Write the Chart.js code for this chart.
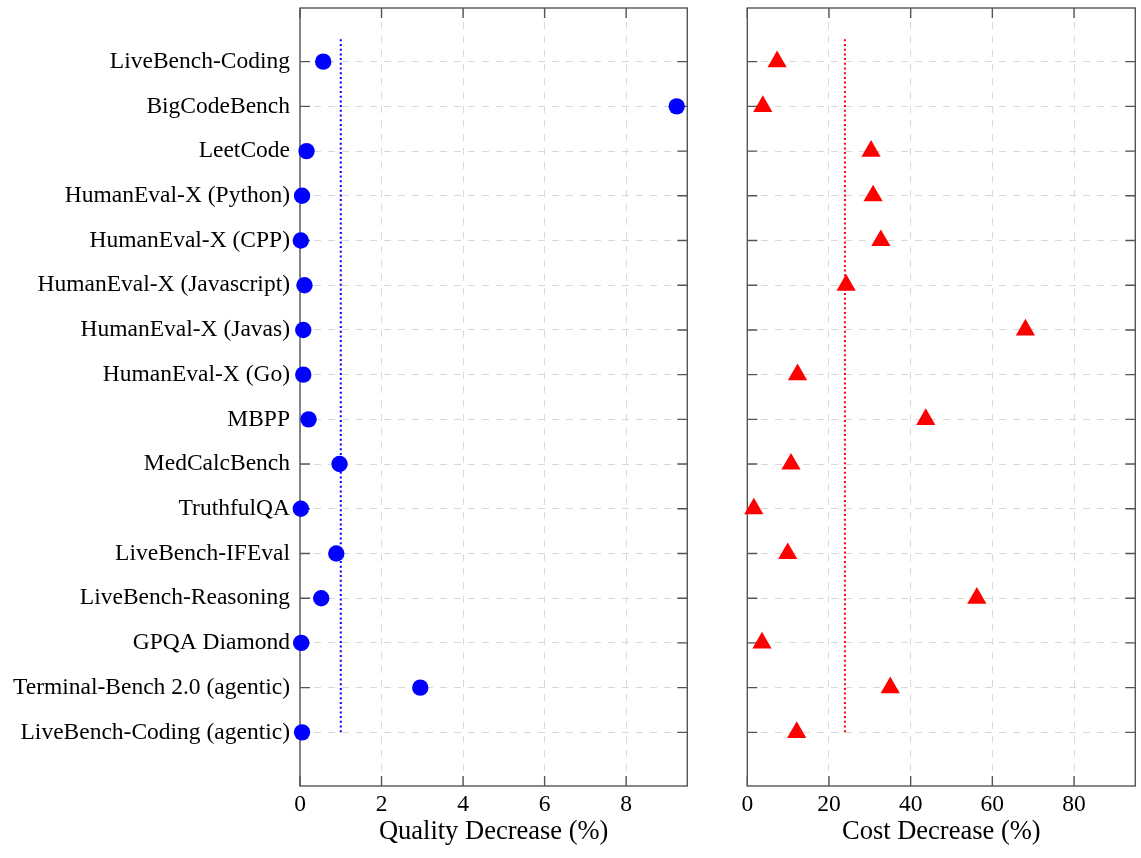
<!DOCTYPE html>
<html>
<head>
<meta charset="utf-8">
<script src="https://cdn.jsdelivr.net/npm/chart.js@4/dist/chart.umd.min.js"></script>
<style>
html,body{margin:0;padding:0;background:#fff;width:1141px;height:858px;overflow:hidden;}
canvas{position:absolute;top:0;}
</style>
</head>
<body>
<canvas id="q" width="700" height="858" style="left:0px;width:700px;height:858px"></canvas>
<canvas id="c" width="441" height="858" style="left:700px;width:441px;height:858px"></canvas>
<script>
const benchmarks = [
  'LiveBench-Coding', 'BigCodeBench', 'LeetCode', 'HumanEval-X (Python)',
  'HumanEval-X (CPP)', 'HumanEval-X (Javascript)', 'HumanEval-X (Javas)', 'HumanEval-X (Go)',
  'MBPP', 'MedCalcBench', 'TruthfulQA', 'LiveBench-IFEval',
  'LiveBench-Reasoning', 'GPQA Diamond', 'Terminal-Bench 2.0 (agentic)', 'LiveBench-Coding (agentic)'
];
const qualityDecrease = [0.57, 9.24, 0.16, 0.05, 0.02, 0.11, 0.08, 0.08, 0.21, 0.97, 0.02, 0.89, 0.52, 0.03, 2.95, 0.05];
const costDecrease = [7.3, 3.8, 30.3, 30.8, 32.7, 24.2, 68.1, 12.3, 43.7, 10.7, 1.6, 9.9, 56.2, 3.6, 35.0, 12.1];
const qualityMean = 1.0;
const costMean = 23.9;
const meanLineSpan = [-0.5, 15];
const qualityTicks = [0, 2, 4, 6, 8];
const costTicks = [0, 20, 40, 60, 80];
const qualityRange = [0, 9.5];
const costRange = [0, 95];
const categoryRange = [-1.2, 16.2];

const FONT = 'Liberation Serif, Times New Roman, serif';

const framePlugin = {
  id: 'frame',
  beforeDatasetsDraw(chart) {
    const {ctx, chartArea: a, scales: {x, y}} = chart;
    ctx.save();
    ctx.strokeStyle = '#555';
    ctx.lineWidth = 1.4;
    ctx.beginPath();
    x.ticks.forEach(t => {
      const px = x.getPixelForValue(t.value);
      ctx.moveTo(px, a.top); ctx.lineTo(px, a.top + 10);
      ctx.moveTo(px, a.bottom); ctx.lineTo(px, a.bottom - 10);
    });
    y.ticks.forEach(t => {
      const py = y.getPixelForValue(t.value);
      ctx.moveTo(a.left, py); ctx.lineTo(a.left + 10, py);
      ctx.moveTo(a.right, py); ctx.lineTo(a.right - 10, py);
    });
    ctx.stroke();
    ctx.strokeRect(a.left, a.top, a.right - a.left, a.bottom - a.top);
    ctx.restore();
  }
};

function zeroPad(s) {
  s.paddingTop = 0; s.paddingBottom = 0; s.paddingLeft = 0; s.paddingRight = 0;
}

function makeChart(id, values, mean, color, pointStyle, radius, xTicks, xRange, title, yWidth, rightPad, showYLabels) {
  return new Chart(document.getElementById(id), {
    type: 'scatter',
    data: {
      datasets: [
        {
          data: values.map((v, i) => ({x: v, y: i})),
          backgroundColor: color,
          borderColor: color,
          borderWidth: 0,
          pointStyle: pointStyle,
          pointRadius: radius,
          pointHoverRadius: radius,
          clip: false
        },
        {
          data: meanLineSpan.map(yy => ({x: mean, y: yy})),
          showLine: true,
          borderColor: color,
          borderWidth: 2,
          borderDash: [2, 2.7],
          pointRadius: 0,
          fill: false,
          clip: false
        }
      ]
    },
    options: {
      responsive: false,
      devicePixelRatio: 1,
      animation: false,
      events: [],
      layout: {autoPadding: false, padding: {top: 8, right: rightPad, left: 0, bottom: 0}},
      plugins: {legend: {display: false}, tooltip: {enabled: false}},
      scales: {
        x: {
          type: 'linear',
          min: xRange[0], max: xRange[1],
          afterBuildTicks: s => { s.ticks = xTicks.map(v => ({value: v})); },
          afterFit: s => { s.height = 72; zeroPad(s); },
          grid: {color: '#d9d9d9', lineWidth: 1, drawTicks: false},
          border: {display: false, dash: [7, 7]},
          ticks: {color: '#000', padding: 5, font: {family: FONT, size: 23.5}, callback: v => String(v)},
          title: {display: true, text: title, color: '#000', padding: {top: 0, bottom: 10}, font: {family: FONT, size: 26.5}}
        },
        y: {
          type: 'linear',
          reverse: true,
          min: categoryRange[0], max: categoryRange[1],
          afterBuildTicks: s => { s.ticks = benchmarks.map((b, i) => ({value: i})); },
          afterFit: s => { s.width = yWidth; zeroPad(s); },
          grid: {color: '#d9d9d9', lineWidth: 1, drawTicks: false},
          border: {display: false, dash: [7, 7]},
          ticks: {display: showYLabels, color: '#000', padding: 10, font: {family: FONT, size: 23.5},
                  callback: v => benchmarks[v] ?? ''}
        }
      }
    },
    plugins: [framePlugin]
  });
}

makeChart('q', qualityDecrease, qualityMean, '#0000ff', 'circle', 8.2, qualityTicks, qualityRange,
          'Quality Decrease (%)', 300, 12.7, true);
makeChart('c', costDecrease, costMean, '#ff0000', 'triangle', 11.1, costTicks, costRange,
          'Cost Decrease (%)', 47.3, 5.7, false);
</script>
</body>
</html>
